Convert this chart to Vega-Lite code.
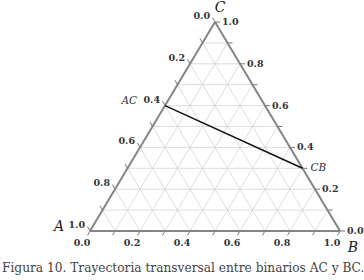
{
  "$schema": "https://vega.github.io/schema/vega-lite/v6.json",
  "width": 250,
  "height": 209,
  "autosize": "none",
  "padding": {"left": 90, "top": 22, "right": 24, "bottom": 49},
  "background": "white",
  "config": {"view": {"stroke": null}},
  "title": {
    "text": "Figura 10. Trayectoria transversal entre binarios AC y BC.",
    "orient": "bottom",
    "anchor": "start",
    "frame": "group",
    "dx": -88,
    "offset": 7,
    "baseline": "top",
    "font": "DejaVu Serif",
    "fontSize": 12.2,
    "fontWeight": "normal",
    "color": "#444"
  },
  "datasets": {
    "grid": [
      {"x": 0.05, "y": 0.1, "x2": 0.95, "y2": 0.1},
      {"x": 0.1, "y": 0.2, "x2": 0.9, "y2": 0.2},
      {"x": 0.15, "y": 0.3, "x2": 0.85, "y2": 0.3},
      {"x": 0.2, "y": 0.4, "x2": 0.8, "y2": 0.4},
      {"x": 0.25, "y": 0.5, "x2": 0.75, "y2": 0.5},
      {"x": 0.3, "y": 0.6, "x2": 0.7, "y2": 0.6},
      {"x": 0.35, "y": 0.7, "x2": 0.65, "y2": 0.7},
      {"x": 0.4, "y": 0.8, "x2": 0.6, "y2": 0.8},
      {"x": 0.45, "y": 0.9, "x2": 0.55, "y2": 0.9},
      {"x": 0.1, "y": 0, "x2": 0.55, "y2": 0.9},
      {"x": 0.2, "y": 0, "x2": 0.6, "y2": 0.8},
      {"x": 0.3, "y": 0, "x2": 0.65, "y2": 0.7},
      {"x": 0.4, "y": 0, "x2": 0.7, "y2": 0.6},
      {"x": 0.5, "y": 0, "x2": 0.75, "y2": 0.5},
      {"x": 0.6, "y": 0, "x2": 0.8, "y2": 0.4},
      {"x": 0.7, "y": 0, "x2": 0.85, "y2": 0.3},
      {"x": 0.8, "y": 0, "x2": 0.9, "y2": 0.2},
      {"x": 0.9, "y": 0, "x2": 0.95, "y2": 0.1},
      {"x": 0.1, "y": 0, "x2": 0.05, "y2": 0.1},
      {"x": 0.2, "y": 0, "x2": 0.1, "y2": 0.2},
      {"x": 0.3, "y": 0, "x2": 0.15, "y2": 0.3},
      {"x": 0.4, "y": 0, "x2": 0.2, "y2": 0.4},
      {"x": 0.5, "y": 0, "x2": 0.25, "y2": 0.5},
      {"x": 0.6, "y": 0, "x2": 0.3, "y2": 0.6},
      {"x": 0.7, "y": 0, "x2": 0.35, "y2": 0.7},
      {"x": 0.8, "y": 0, "x2": 0.4, "y2": 0.8},
      {"x": 0.9, "y": 0, "x2": 0.45, "y2": 0.9}
    ],
    "edges": [
      {"x": 0, "y": 0, "x2": 1, "y2": 0},
      {"x": 0, "y": 0, "x2": 0.5, "y2": 1},
      {"x": 1, "y": 0, "x2": 0.5, "y2": 1}
    ],
    "ticks": [
      {"x": 0.0, "y": 0, "x2": -0.01, "y2": -0.021},
      {"x": 0.1, "y": 0, "x2": 0.09, "y2": -0.021},
      {"x": 0.2, "y": 0, "x2": 0.19, "y2": -0.021},
      {"x": 0.3, "y": 0, "x2": 0.29, "y2": -0.021},
      {"x": 0.4, "y": 0, "x2": 0.39, "y2": -0.021},
      {"x": 0.5, "y": 0, "x2": 0.49, "y2": -0.021},
      {"x": 0.6, "y": 0, "x2": 0.59, "y2": -0.021},
      {"x": 0.7, "y": 0, "x2": 0.69, "y2": -0.021},
      {"x": 0.8, "y": 0, "x2": 0.79, "y2": -0.021},
      {"x": 0.9, "y": 0, "x2": 0.89, "y2": -0.021},
      {"x": 1.0, "y": 0, "x2": 0.99, "y2": -0.021},
      {"x": 0.0, "y": 0.0, "x2": -0.01, "y2": 0.021},
      {"x": 0.05, "y": 0.1, "x2": 0.04, "y2": 0.121},
      {"x": 0.1, "y": 0.2, "x2": 0.09, "y2": 0.221},
      {"x": 0.15, "y": 0.3, "x2": 0.14, "y2": 0.321},
      {"x": 0.2, "y": 0.4, "x2": 0.19, "y2": 0.421},
      {"x": 0.25, "y": 0.5, "x2": 0.24, "y2": 0.521},
      {"x": 0.3, "y": 0.6, "x2": 0.29, "y2": 0.621},
      {"x": 0.35, "y": 0.7, "x2": 0.34, "y2": 0.721},
      {"x": 0.4, "y": 0.8, "x2": 0.39, "y2": 0.821},
      {"x": 0.45, "y": 0.9, "x2": 0.44, "y2": 0.921},
      {"x": 0.5, "y": 1.0, "x2": 0.49, "y2": 1.021},
      {"x": 1.0, "y": 0.0, "x2": 1.02, "y2": 0.0},
      {"x": 0.95, "y": 0.1, "x2": 0.97, "y2": 0.1},
      {"x": 0.9, "y": 0.2, "x2": 0.92, "y2": 0.2},
      {"x": 0.85, "y": 0.3, "x2": 0.87, "y2": 0.3},
      {"x": 0.8, "y": 0.4, "x2": 0.82, "y2": 0.4},
      {"x": 0.75, "y": 0.5, "x2": 0.77, "y2": 0.5},
      {"x": 0.7, "y": 0.6, "x2": 0.72, "y2": 0.6},
      {"x": 0.65, "y": 0.7, "x2": 0.67, "y2": 0.7},
      {"x": 0.6, "y": 0.8, "x2": 0.62, "y2": 0.8},
      {"x": 0.55, "y": 0.9, "x2": 0.57, "y2": 0.9},
      {"x": 0.5, "y": 1.0, "x2": 0.52, "y2": 1.0}
    ],
    "path": [
      {"x": 0.3, "y": 0.6, "x2": 0.85, "y2": 0.3}
    ],
    "bottomLabels": [
      {"x": 0.0, "y": 0, "t": "0.0"},
      {"x": 0.2, "y": 0, "t": "0.2"},
      {"x": 0.4, "y": 0, "t": "0.4"},
      {"x": 0.6, "y": 0, "t": "0.6"},
      {"x": 0.8, "y": 0, "t": "0.8"},
      {"x": 1.0, "y": 0, "t": "1.0"}
    ],
    "leftLabels": [
      {"x": 0.5, "y": 1.0, "t": "0.0"},
      {"x": 0.4, "y": 0.8, "t": "0.2"},
      {"x": 0.3, "y": 0.6, "t": "0.4"},
      {"x": 0.2, "y": 0.4, "t": "0.6"},
      {"x": 0.1, "y": 0.2, "t": "0.8"},
      {"x": 0.0, "y": 0.0, "t": "1.0"}
    ],
    "rightLabels": [
      {"x": 0.5, "y": 1.0, "t": "1.0"},
      {"x": 0.6, "y": 0.8, "t": "0.8"},
      {"x": 0.7, "y": 0.6, "t": "0.6"},
      {"x": 0.8, "y": 0.4, "t": "0.4"},
      {"x": 0.9, "y": 0.2, "t": "0.2"},
      {"x": 1.0, "y": 0.0, "t": "0.0"}
    ]
  },
  "encoding": {
    "x": {"field": "x", "type": "quantitative", "axis": null, "scale": {"domain": [0, 1], "nice": false, "zero": false}},
    "y": {"field": "y", "type": "quantitative", "axis": null, "scale": {"domain": [0, 1], "nice": false, "zero": false}}
  },
  "layer": [
    {
      "data": {"name": "grid"},
      "mark": {"type": "rule", "color": "#d4d4d4", "strokeWidth": 0.8},
      "encoding": {"x2": {"field": "x2"}, "y2": {"field": "y2"}}
    },
    {
      "data": {"name": "ticks"},
      "mark": {"type": "rule", "color": "#777", "strokeWidth": 1},
      "encoding": {"x2": {"field": "x2"}, "y2": {"field": "y2"}}
    },
    {
      "data": {"name": "edges"},
      "mark": {"type": "rule", "color": "#858585", "strokeWidth": 2},
      "encoding": {"x2": {"field": "x2"}, "y2": {"field": "y2"}}
    },
    {
      "data": {"name": "path"},
      "mark": {"type": "rule", "color": "#111", "strokeWidth": 1.5},
      "encoding": {"x2": {"field": "x2"}, "y2": {"field": "y2"}}
    },
    {
      "data": {"name": "bottomLabels"},
      "mark": {"type": "text", "font": "DejaVu Serif", "fontWeight": "bold", "fontSize": 9.5, "color": "#333", "align": "center", "baseline": "middle", "dx": -8, "dy": 12},
      "encoding": {"text": {"field": "t"}}
    },
    {
      "data": {"name": "leftLabels"},
      "mark": {"type": "text", "font": "DejaVu Serif", "fontWeight": "bold", "fontSize": 9.5, "color": "#333", "align": "right", "baseline": "middle", "dx": -5, "dy": -6},
      "encoding": {"text": {"field": "t"}}
    },
    {
      "data": {"name": "rightLabels"},
      "mark": {"type": "text", "font": "DejaVu Serif", "fontWeight": "bold", "fontSize": 9.5, "color": "#333", "align": "left", "baseline": "middle", "dx": 7, "dy": 0},
      "encoding": {"text": {"field": "t"}}
    },
    {
      "data": {"values": [{"x": 0.3, "y": 0.6, "t": "AC"}]},
      "mark": {"type": "text", "font": "DejaVu Serif", "fontStyle": "italic", "fontSize": 10.5, "color": "#333", "align": "right", "baseline": "middle", "dx": -28, "dy": -5},
      "encoding": {"text": {"field": "t"}}
    },
    {
      "data": {"values": [{"x": 0.85, "y": 0.3, "t": "CB"}]},
      "mark": {"type": "text", "font": "DejaVu Serif", "fontStyle": "italic", "fontSize": 10.5, "color": "#333", "align": "left", "baseline": "middle", "dx": 8, "dy": 0},
      "encoding": {"text": {"field": "t"}}
    },
    {
      "data": {"values": [{"x": 0, "y": 0, "t": "A"}]},
      "mark": {"type": "text", "font": "DejaVu Serif", "fontStyle": "italic", "fontSize": 14, "color": "#222", "align": "right", "baseline": "middle", "dx": -26, "dy": -4},
      "encoding": {"text": {"field": "t"}}
    },
    {
      "data": {"values": [{"x": 1, "y": 0, "t": "B"}]},
      "mark": {"type": "text", "font": "DejaVu Serif", "fontStyle": "italic", "fontSize": 14, "color": "#222", "align": "center", "baseline": "middle", "dx": 13, "dy": 17},
      "encoding": {"text": {"field": "t"}}
    },
    {
      "data": {"values": [{"x": 0.5, "y": 1, "t": "C"}]},
      "mark": {"type": "text", "font": "DejaVu Serif", "fontStyle": "italic", "fontSize": 14, "color": "#222", "align": "center", "baseline": "middle", "dx": 5, "dy": -14},
      "encoding": {"text": {"field": "t"}}
    }
  ]
}
